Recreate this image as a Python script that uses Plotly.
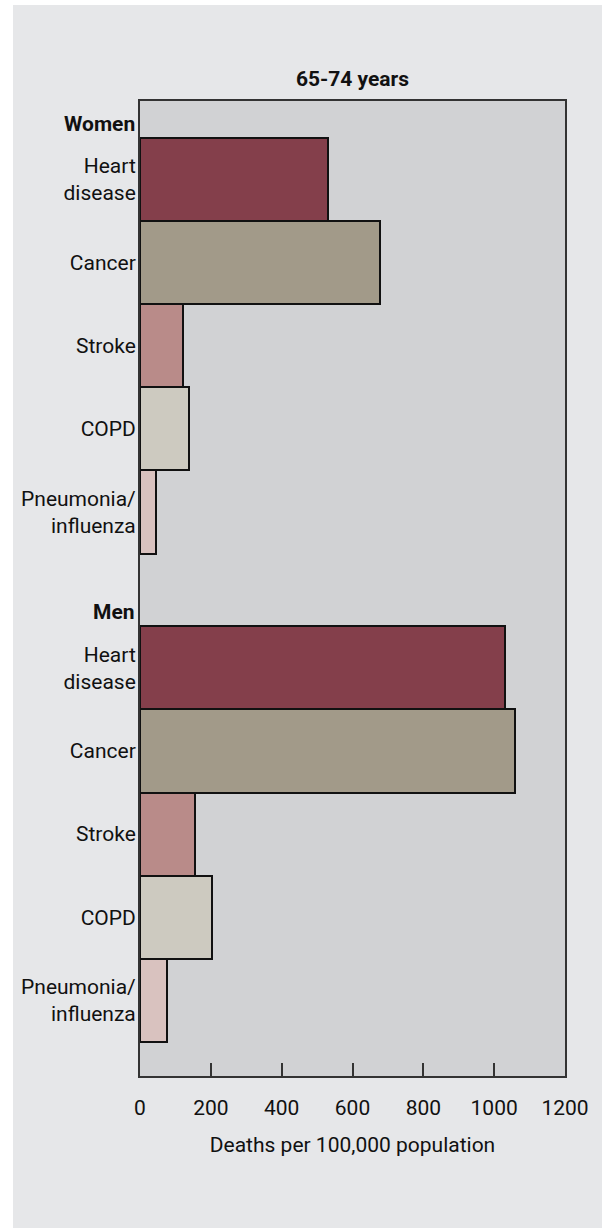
import plotly.graph_objects as go

causes = ["Heart<br>disease", "Cancer", "Stroke", "COPD", "Pneumonia/<br>influenza"]
groups = ["Women", "Men"]
women_values = [532, 678, 120, 138, 44]
men_values = [1030, 1059, 155, 204, 75]
colors = ["#843F4B", "#A29A89", "#B98B89", "#CDCAC0", "#D9C2BF"]
x_ticks = [0, 200, 400, 600, 800, 1000, 1200]
title_text = "65-74 years"
x_title = "Deaths per 100,000 population"

FONT = "Roboto, Liberation Sans, Arial, sans-serif"
FS = 21
GROUP_STEP = len(causes) + 0.876  # slot offset between the two groups

fig = go.Figure()
tickvals, ticktext = [], []
for g, vals in enumerate([women_values, men_values]):
    ys = [i + g * GROUP_STEP for i in range(len(causes))]
    fig.add_trace(go.Bar(
        x=vals, y=ys, orientation="h", width=1.0,
        marker=dict(color=colors, line=dict(color="#111111", width=2)),
        showlegend=False, hoverinfo="x",
    ))
    tickvals += ys
    ticktext += causes
    fig.add_annotation(
        x=0, y=ys[0] - 0.5, xref="paper", yref="y", text="<b>%s</b>" % groups[g],
        showarrow=False, xanchor="right", yanchor="bottom", xshift=-3, yshift=0,
        font=dict(family=FONT, size=FS, color="#111111"),
    )

y_top = -0.5 - 0.444
y_bot = GROUP_STEP + len(causes) - 0.5 + 0.41

fig.update_layout(
    width=602, height=1228,
    margin=dict(l=140, r=37, t=101, b=152, autoexpand=False),
    paper_bgcolor="#E6E7E9",
    plot_bgcolor="#D1D2D4",
    font=dict(family=FONT, size=FS, color="#111111"),
    bargap=0,
    title=dict(text="<b>%s</b>" % title_text, x=0.5, xref="paper", xanchor="center",
               y=1 - 79 / 1228, yref="container", yanchor="middle",
               font=dict(family=FONT, size=FS, color="#111111")),
    shapes=[
        dict(type="rect", xref="paper", yref="paper",
             x0=(0 - 140) / 425, x1=(13 - 140) / 425,
             y0=(1076 - 1228) / 975, y1=1076 / 975,
             fillcolor="white", line=dict(width=0)),
        dict(type="rect", xref="paper", yref="paper",
             x0=(0 - 140) / 425, x1=(602 - 140) / 425,
             y0=(1076 - 5) / 975, y1=1076 / 975,
             fillcolor="white", line=dict(width=0)),
    ],
)
fig.update_xaxes(
    range=[0, 1200], tickvals=x_ticks, ticktext=[str(v) for v in x_ticks],
    ticks="inside", ticklen=13, tickwidth=2, tickcolor="#333333",
    showline=True, linecolor="#333333", linewidth=2, mirror=True,
    showgrid=False, zeroline=False, ticklabelstandoff=12, automargin=False,
    title=dict(text=x_title, standoff=18, font=dict(size=FS)),
    tickfont=dict(size=FS),
)
fig.update_yaxes(
    range=[y_bot, y_top], tickvals=tickvals, ticktext=ticktext,
    ticks="", showline=True, linecolor="#333333", linewidth=2, mirror=True,
    showgrid=False, zeroline=False, ticklabelstandoff=-2, automargin=False,
    tickfont=dict(size=FS),
)
fig.write_html(
    "out.html",
    config={"displayModeBar": False},
    post_script="document.body.style.margin='0px';document.body.style.overflow='hidden';",
)
